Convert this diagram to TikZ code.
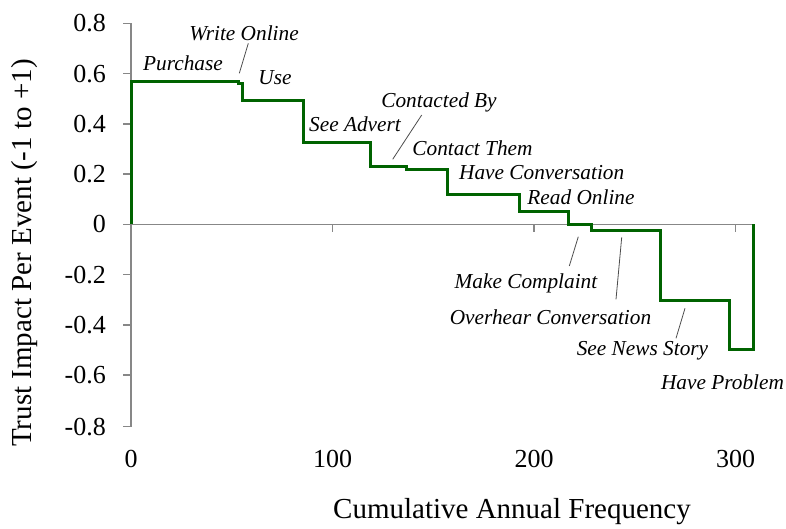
\documentclass[tikz,border=0pt]{standalone}
\usepackage{fontspec}
\setmainfont{Liberation Serif}
\begin{document}
\begin{tikzpicture}[x=1pt,y=-1pt,
  axisline/.style={draw=black!47,line width=1.4pt},
  trend/.style={draw=green!39!black,line width=3pt,line join=miter},
  ticklbl/.style={font=\fontsize{26}{26}\selectfont,inner sep=0pt},
  titlelbl/.style={font=\fontsize{29}{29}\selectfont,inner sep=0pt},
  eventlbl/.style={font=\fontsize{21.3}{21.3}\selectfont\itshape,inner sep=0pt},
  leader/.style={draw=black!70,line width=0.8pt}]
\useasboundingbox (0,0) rectangle (786,528);

% axes
\draw[axisline] (131,23.3) -- (131,426.7);
\draw[axisline] (131,224.3) -- (754,224.3);
\foreach \v/\yy in {0.8/23.3,0.6/73.6,0.4/123.8,0.2/174.1,0/224.3,-0.2/274.6,-0.4/324.8,-0.6/375.1,-0.8/426.7}{
  \draw[axisline] (123,\yy) -- (131,\yy);
  \node[ticklbl,anchor=east] at (106,\yy) {\v};
}
\foreach \v/\xx in {0/131,100/332.5,200/534,300/735.5}{
  \draw[axisline] (\xx,224.3) -- (\xx,232);
  \node[ticklbl] at (\xx,459) {\v};
}

% axis titles
\node[titlelbl,rotate=90] (ytitle) at (25,253) {Trust Impact Per Event (-1 to +1)};
\node[titlelbl] (xtitle) at (512,512) {Cumulative Annual Frequency};

% cumulative trust-impact step curve
\draw[trend] (131,224.3) -- (131,81.5) -- (238.5,81.5) -- (238.5,83.5) -- (242.5,83.5)
  -- (242.5,100) -- (303.3,100) -- (303.3,142.7) -- (370.7,142.7) -- (370.7,166.7)
  -- (406,166.7) -- (406,169.3) -- (447.3,169.3) -- (447.3,194) -- (519.3,194)
  -- (519.3,211) -- (568.7,211) -- (568.7,224.5) -- (591.7,224.5) -- (591.7,230)
  -- (660.7,230) -- (660.7,300) -- (729,300) -- (729,349.3) -- (753.3,349.3)
  -- (753.3,224.3);

% event labels
\node[eventlbl] (purchase) at (183,63) {Purchase};
\node[eventlbl] (write) at (244,33) {Write Online};
\node[eventlbl] (use) at (275,78) {Use};
\node[eventlbl] (advert) at (355,124) {See Advert};
\node[eventlbl] (contactedby) at (439,102) {Contacted By};
\node[eventlbl] (contactthem) at (472.5,148) {Contact Them};
\node[eventlbl] (haveconv) at (541.7,173) {Have Conversation};
\node[eventlbl] (readonline) at (581,197) {Read Online};
\node[eventlbl] (complaint) at (526,283) {Make Complaint};
\node[eventlbl] (overhear) at (550.5,317) {Overhear Conversation};
\node[eventlbl] (news) at (642.5,351) {See News Story};
\node[eventlbl] (problem) at (722.5,382) {Have Problem};

% leader lines
\coordinate (writeend) at (239.3,73.3);
\coordinate (contactedend) at (392.7,159.3);
\coordinate (complaintend) at (578.3,236.7);
\coordinate (overhearend) at (621.7,237.3);
\coordinate (newsend) at (685,308.3);
\draw[leader] (248.3,43.3) -- (writeend);
\draw[leader] (421.7,115) -- (contactedend);
\draw[leader] (569.3,266) -- (complaintend);
\draw[leader] (616,299.3) -- (overhearend);
\draw[leader] (676,338.3) -- (newsend);
\end{tikzpicture}
\end{document}
